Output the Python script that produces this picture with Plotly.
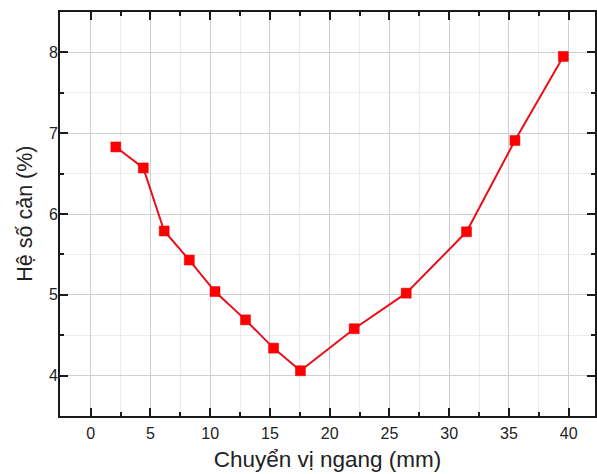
import plotly.graph_objects as go

# Horizontal displacement (mm) and damping ratio (%)
displacement = [2.1, 4.4, 6.15, 8.25, 10.4, 12.95, 15.3, 17.55, 22.05, 26.4, 31.45, 35.5, 39.55]
damping = [6.83, 6.57, 5.79, 5.43, 5.04, 4.69, 4.34, 4.06, 4.58, 5.02, 5.78, 6.91, 7.95]

x_ticks = [0, 5, 10, 15, 20, 25, 30, 35, 40]
y_ticks = [4, 5, 6, 7, 8]

FONT = "Arial, Liberation Sans, sans-serif"
AXIS_COLOR = "#1a1a1a"
TEXT_COLOR = "#222222"

fig = go.Figure()
fig.add_trace(go.Scatter(
    x=displacement,
    y=damping,
    mode="lines+markers",
    line=dict(color="#e8101a", width=2),
    marker=dict(symbol="square", size=10, color="#ff0000",
                line=dict(color="#e00000", width=0.5)),
    showlegend=False,
))

axis_common = dict(
    showline=True,
    linecolor=AXIS_COLOR,
    linewidth=2,
    mirror="allticks",
    ticks="inside",
    ticklen=8,
    tickwidth=1.5,
    tickcolor=AXIS_COLOR,
    showgrid=True,
    gridcolor="#cfcfcf",
    gridwidth=1,
    zeroline=False,
    tickfont=dict(family=FONT, size=16, color=TEXT_COLOR),
)

fig.update_xaxes(
    **axis_common,
    range=[-2.57, 42.2],
    tickvals=x_ticks,
    ticklabelstandoff=2,
    minor=dict(dtick=2.5, tick0=0, ticks="inside", ticklen=4, tickwidth=1.5,
               tickcolor=AXIS_COLOR, showgrid=True, gridcolor="#ececec", gridwidth=1),
    title=dict(text="Chuyển vị ngang (mm)", font=dict(family=FONT, size=22.5, color=TEXT_COLOR),
               standoff=10),
)
fig.update_yaxes(
    **axis_common,
    range=[3.5, 8.5],
    tickvals=y_ticks,
    ticklabelstandoff=-3,
    minor=dict(dtick=0.5, tick0=0, ticks="inside", ticklen=4, tickwidth=1.5,
               tickcolor=AXIS_COLOR, showgrid=True, gridcolor="#ececec", gridwidth=1),
)

# Vertical axis title placed to the left of the tick labels
fig.add_annotation(
    text="Hệ số cản (%)",
    xref="paper", yref="paper",
    x=-0.066, y=0.5,
    xanchor="center", yanchor="middle",
    textangle=-90,
    showarrow=False,
    font=dict(family=FONT, size=21.5, color=TEXT_COLOR),
)

fig.update_layout(
    width=597,
    height=474,
    margin=dict(l=60, r=0, t=12, b=58),
    paper_bgcolor="white",
    plot_bgcolor="white",
)

fig.write_html("out.html")
